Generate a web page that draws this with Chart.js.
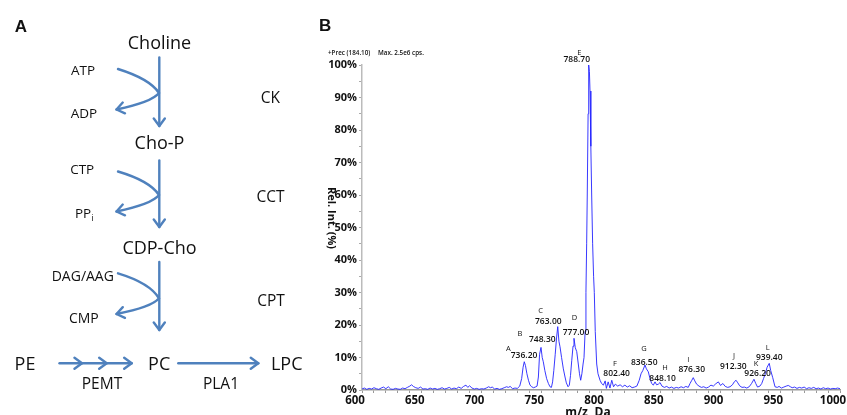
<!DOCTYPE html>
<html><head><meta charset="utf-8">
<script src="https://cdn.jsdelivr.net/npm/chart.js@4"></script>
<style>
html,body{margin:0;padding:0;background:#fff;width:847px;height:415px;overflow:hidden}
#c{position:absolute;left:0;top:0}
#pa{position:absolute;left:0;top:0;font-family:'Open Sans',sans-serif}
</style></head><body>
<canvas id="c" width="847" height="415"></canvas>
<svg id="pa" width="320" height="415" xmlns="http://www.w3.org/2000/svg">
  <defs>
    <marker id="ah" markerUnits="userSpaceOnUse" markerWidth="12" markerHeight="14" viewBox="0 0 12 14" refX="10" refY="7" orient="auto">
      <path d="M2.5,1.5 L10,7 L2.5,12.5" fill="none" stroke="#4f81bd" stroke-width="2.4" stroke-linecap="round" stroke-linejoin="round"/>
    </marker>
  </defs>
  <g fill="#111" dominant-baseline="central" text-anchor="middle">
    <text x="21" y="26" font-size="17" font-weight="bold" font-family="Liberation Sans, Arial, sans-serif">A</text>
    <text x="159.5" y="41.5" font-size="18">Choline</text>
    <text x="159.5" y="141.5" font-size="18">Cho-P</text>
    <text x="159.5" y="246.5" font-size="18">CDP-Cho</text>
    <text x="25" y="363" font-size="18">PE</text>
    <text x="159.2" y="363" font-size="18">PC</text>
    <text x="286.7" y="363" font-size="18">LPC</text>
    <text x="83" y="70" font-size="13.5">ATP</text>
    <text x="84" y="113.3" font-size="13.5">ADP</text>
    <text x="82.2" y="169.3" font-size="13.5">CTP</text>
    <text x="75" y="213" font-size="13.5" text-anchor="start">PP<tspan font-size="9" dy="4">i</tspan></text>
    <text x="82.8" y="275" font-size="14">DAG/AAG</text>
    <text x="83.8" y="317.3" font-size="14">CMP</text>
    <text x="270.3" y="96.7" font-size="15.5">CK</text>
    <text x="270.5" y="196" font-size="15.5">CCT</text>
    <text x="271" y="300" font-size="15.5">CPT</text>
    <text x="102" y="383.3" font-size="15.5">PEMT</text>
    <text x="221" y="383.3" font-size="15.5">PLA1</text>
  </g>
  <g fill="none" stroke="#4f81bd" stroke-width="2.4" stroke-linecap="round">
    <path d="M159.3,57.5 L159.3,126" marker-end="url(#ah)"/>
    <path d="M118,69 Q150,79 159,93 Q152,102 116.5,109.5" marker-end="url(#ah)"/>
    <path d="M159.3,160.5 L159.3,227" marker-end="url(#ah)"/>
    <path d="M118,171.5 Q150,181 159,195 Q152,204 116.5,211.5" marker-end="url(#ah)"/>
    <path d="M159.3,262 L159.3,330" marker-end="url(#ah)"/>
    <path d="M118,273.3 Q150,283 159,298.3 Q152,307 116.5,314" marker-end="url(#ah)"/>
    <path d="M59.5,363.3 L82,363.3" marker-end="url(#ah)"/>
    <path d="M83,363.3 L106.7,363.3" marker-end="url(#ah)"/>
    <path d="M107.7,363.3 L131.7,363.3" marker-end="url(#ah)"/>
    <path d="M178.3,363.3 L258.3,363.3" marker-end="url(#ah)"/>
  </g>
</svg>
<script>
// ---- spectrum data (m/z, relative intensity %) ----
const mz = [600,602,604,606,608,610,612,614,616,618,620,622,624,626,628,630,632,634,636,638,640,641.5,643,645,647,649,651,653,655,657,659,661,663,665,667,669,671,673,675,677,679,681,683,685,687,688.5,690,692,694,696,698,700,702,704,706,707.5,709,711,713,715,717,719,721,722.5,724,726,728,730,732,
733.6,734.8,735.8,736.8,738,739.3,740.6,742,743.5,745,746.5,747.6,
748.6,749.8,750.8,751.7,753,754.5,756,757.3,758.5,759.5,
760.5,761.7,762.8,763.8,764.8,765.7,767,768.5,769.9,771,772.4,773.5,774.5,
775.5,776.6,777.4,778.5,779.7,781,782,783,784,785,785.8,786.7,787.4,788,788.5,789.2,789.7,790.3,790.8,791.5,792.2,793,793.8,794.4,795.2,796.4,797.5,799.2,800.5,802,803.5,804.5,806,807.5,809,810.5,812,814,816,818,820,822,824,826,828,830,
832,833.5,835,836.8,838,839.6,841,842.4,843.8,845.2,846.5,848,849.4,851,853,855,857,859,861,863,865,867,869,871,873,874.5,876,877.2,878.5,880,882,884,886,888,890,892,894,896,898.2,900,902,904,906,908,910,911.5,913,914.5,916,918,920,922,924,926,928,929.5,931,933,934.5,936,937.5,939,940.8,942,943.7,945.6,947.5,949,951,953,955,956.7,958.5,960,962,964,966,968,970,972,974,976,978,980,982,984,986,988,990,992,994,996,998,1000];
const relInt = [0.3,0.6,0.2,0.5,0.3,0.7,0.4,0.2,0.6,0.9,0.4,1.0,0.3,0.2,0.5,0.3,0.2,0.6,0.4,0.8,1.2,1.6,1.1,0.7,0.5,0.9,0.3,0.4,0.2,0.6,0.3,0.5,0.2,0.4,0.7,0.3,0.5,0.8,0.3,0.6,0.4,0.9,0.5,1.1,1.5,0.8,1.3,0.6,0.3,0.5,0.2,0.4,0.3,0.6,1.0,0.7,0.9,0.3,0.5,0.2,0.4,0.7,1.0,0.8,1.1,0.4,0.6,0.5,1.2,
3.5,7.0,8.7,7.5,5.0,3.0,1.5,1.0,0.7,0.9,1.2,4.0,
11.0,13.1,10.0,8.7,6.0,3.5,2.0,1.0,0.8,2.5,
6.0,11.0,16.0,19.5,15.0,13.3,10.0,6.5,4.0,2.2,1.0,1.5,4.5,
9.0,13.5,15.9,13.0,11.8,8.0,5.0,3.0,5.0,8.0,10.0,18.0,30.0,45.0,60.0,85.0,100.0,98.0,92.0,75.0,60.0,45.0,35.0,30.0,18.0,8.0,5.0,3.0,2.0,1.5,2.8,0.5,2.5,0.6,3.0,1.0,1.8,1.2,1.6,1.0,1.5,0.9,1.3,0.7,0.9,1.2,
3.0,5.0,6.0,7.7,6.5,5.6,3.5,2.0,1.5,2.5,1.6,1.8,2.3,1.2,0.8,1.1,0.6,0.9,0.5,0.8,0.6,1.0,0.7,1.1,0.8,2.0,3.0,3.8,2.8,1.8,1.2,0.8,1.0,0.6,0.9,1.5,1.2,1.9,2.5,1.4,2.0,1.1,0.8,1.0,1.6,2.5,3.0,2.2,1.3,0.8,0.9,0.6,1.0,2.0,3.3,2.0,0.9,1.2,2.0,3.5,5.0,7.0,8.2,6.0,3.8,1.0,0.8,1.1,0.6,0.9,1.2,1.4,1.0,0.7,0.9,0.5,0.8,0.6,0.9,0.4,0.7,0.5,0.8,0.4,0.6,0.3,0.7,0.4,0.6,0.3,0.5,0.4,0.6,0.4];

// ---- peak annotations ----
const peakLetters = ['A','B','C','D','E','F','G','H','I','J','K','L'];
const peakLabels  = ['736.20','748.30','763.00','777.00','788.70','802.40','836.50','848.10','876.30','912.30','926.20','939.40'];
const labelMz     = [735.6,750.9,755.9,779.1,779.7,813.1,836.2,851.6,875.9,910.7,931.1,940.8];
const labelPct    = [10.55,15.4,21.0,17.75,101.75,4.9,8.5,3.6,6.15,7.2,4.9,10.1];
const letterMz    = [722.4,732.2,749.5,777.7,781.8,811.7,836.0,853.6,873.1,911.3,929.7,939.5];
const letterPct   = [12.6,17.2,24.3,22.1,103.6,8.0,12.6,6.7,9.2,10.5,7.9,13.1];

// ---- axes ----
const xMin = 600, xMax = 1000, xLabelStep = 50, xMinorStep = 10;
const yMin = 0, yMax = 100, yLabelStep = 10, yMinorStep = 5;

const points = mz.map((m, i) => ({x: m, y: relInt[i]}));

const overlay = {
  id: 'overlay',
  afterDraw(chart) {
    const ctx = chart.ctx, xs = chart.scales.x, ys = chart.scales.y;
    ctx.save();
    ctx.fillStyle = '#111';
    ctx.textAlign = 'center';
    ctx.textBaseline = 'middle';
    for (let i = 0; i < peakLabels.length; i++) {
      ctx.font = '600 8.5px "Open Sans"';
      ctx.fillText(peakLabels[i], xs.getPixelForValue(labelMz[i]), ys.getPixelForValue(labelPct[i]));
      ctx.font = '7.5px "Open Sans"';
      ctx.fillText(peakLetters[i], xs.getPixelForValue(letterMz[i]), ys.getPixelForValue(letterPct[i]));
    }
    // panel letter
    ctx.font = 'bold 17px "Liberation Sans"';
    ctx.textAlign = 'left';
    ctx.fillText('B', 319, 26);
    // header
    ctx.font = '600 6.3px "Open Sans"';
    ctx.fillText('+Prec (184.10)', 328, 53);
    ctx.fillText('Max. 2.5e6 cps.', 378, 53);
    // y title (reads top to bottom)
    ctx.save();
    ctx.translate(331, 218);
    ctx.rotate(Math.PI / 2);
    ctx.textAlign = 'center';
    ctx.font = 'bold 11px "Open Sans"';
    ctx.fillText('Rel. Int. (%)', 0, 0);
    ctx.restore();
    // x title
    ctx.textAlign = 'center';
    ctx.textBaseline = 'top';
    ctx.font = 'bold 12px "Open Sans"';
    ctx.fillText('m/z, Da', 588, 407);
    ctx.restore();
  }
};

new Chart(document.getElementById('c'), {
  type: 'line',
  data: { datasets: [{
    data: points,
    borderColor: 'rgba(35,35,255,0.9)',
    borderWidth: 1,
    pointRadius: 0,
    tension: 0,
    fill: false
  }]},
  options: {
    responsive: false,
    animation: false,
    devicePixelRatio: 1,
    layout: { padding: { left: 320, top: 65, right: 7, bottom: 0 } },
    plugins: { legend: { display: false }, tooltip: { enabled: false }, title: { display: false } },
    scales: {
      x: {
        type: 'linear', min: xMin, max: xMax,
        ticks: {
          stepSize: xMinorStep, autoSkip: false, maxRotation: 0,
          color: '#111', font: { family: 'Open Sans', weight: 'bold', size: 11.5 },
          padding: 1, labelOffset: -7,
          callback: v => (v % xLabelStep === 0 ? String(v) : '')
        },
        grid: { drawOnChartArea: false, drawTicks: true, tickLength: 3, color: '#999' },
        border: { color: '#999', width: 1.5 },
        afterFit: s => { s.height = 25; s.paddingLeft = 0; s.paddingRight = 0; }
      },
      y: {
        type: 'linear', min: yMin, max: yMax,
        ticks: {
          stepSize: yMinorStep, autoSkip: false,
          color: '#111', font: { family: 'Open Sans', weight: 'bold', size: 11 },
          padding: 2,
          callback: v => (v % yLabelStep === 0 ? v + '%' : '')
        },
        grid: { drawOnChartArea: false, drawTicks: true, tickLength: 3, color: '#aaa' },
        border: { color: '#bbb', width: 1.5 },
        afterFit: s => { s.width = 42; s.paddingTop = 0; s.paddingBottom = 0; }
      }
    }
  },
  plugins: [overlay]
});
</script>
</body></html>
